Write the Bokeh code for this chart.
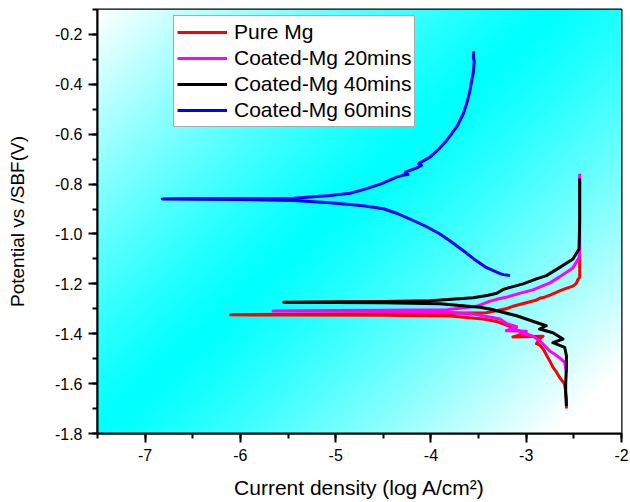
import numpy as np
from bokeh.plotting import figure
from bokeh.models import FixedTicker, PrintfTickFormatter, Legend, LegendItem, Range1d
from bokeh.embed import file_html
from bokeh.resources import INLINE

# ---------------- data ----------------
x_ticks = [-7, -6, -5, -4, -3, -2]
y_ticks = [-1.8, -1.6, -1.4, -1.2, -1.0, -0.8, -0.6, -0.4, -0.2]

series_names = ["Pure Mg", "Coated-Mg 20mins", "Coated-Mg 40mins", "Coated-Mg 60mins"]

pure_x = [-2.578, -2.578, -2.590, -2.600, -2.648, -2.680, -2.719, -2.753, -2.788, -2.820, -2.860,
          -2.893, -2.870, -2.824, -3.140, -3.000, -3.100, -3.140, -3.300, -3.450, -3.800, -4.500,
          -5.500, -6.104, -5.500, -4.500, -3.800, -3.420, -3.210, -3.140, -3.000, -2.900, -2.860,
          -2.820, -2.750, -2.650, -2.580, -2.510, -2.474, -2.457, -2.439, -2.439]
pure_y = [-1.700, -1.660, -1.620, -1.600, -1.576, -1.555, -1.535, -1.509, -1.485, -1.462, -1.445,
          -1.440, -1.425, -1.410, -1.413, -1.398, -1.385, -1.375, -1.352, -1.341, -1.329, -1.326,
          -1.325, -1.324, -1.322, -1.320, -1.318, -1.316, -1.300, -1.290, -1.276, -1.266, -1.258,
          -1.255, -1.245, -1.228, -1.218, -1.209, -1.198, -1.182, -1.174, -1.080]

c20_x = [-2.578, -2.590, -2.596, -2.648, -2.700, -2.753, -2.800, -2.858, -2.930, -2.997, -3.070,
         -3.000, -3.210, -3.100, -3.200, -3.277, -3.557, -3.905, -4.500, -5.000, -5.657, -5.000,
         -4.500, -3.832, -3.520, -3.400, -3.310, -3.210, -3.070, -2.930, -2.750, -2.650, -2.510,
         -2.446, -2.439, -2.439]
c20_y = [-1.555, -1.530, -1.515, -1.497, -1.482, -1.469, -1.450, -1.428, -1.410, -1.401, -1.395,
         -1.390, -1.388, -1.372, -1.360, -1.341, -1.321, -1.312, -1.310, -1.309, -1.309, -1.307,
         -1.306, -1.304, -1.290, -1.272, -1.262, -1.254, -1.238, -1.224, -1.196, -1.172, -1.136,
         -1.095, -1.067, -0.759]

c40_x = [-2.578, -2.586, -2.586, -2.578, -2.578, -2.596, -2.720, -2.614, -2.720, -2.860, -2.790,
         -2.893, -3.100, -3.380, -3.490, -3.905, -4.500, -5.000, -5.546, -5.000, -4.500, -4.010,
         -3.557, -3.400, -3.310, -3.240, -3.207, -3.033, -2.893, -2.788, -2.648, -2.509, -2.446,
         -2.439, -2.439]
c40_y = [-1.690, -1.640, -1.602, -1.535, -1.488, -1.455, -1.436, -1.421, -1.396, -1.381, -1.368,
         -1.355, -1.328, -1.301, -1.294, -1.280, -1.276, -1.275, -1.274, -1.272, -1.271, -1.268,
         -1.256, -1.246, -1.238, -1.222, -1.218, -1.200, -1.180, -1.167, -1.134, -1.100, -1.060,
         -0.950, -0.778]

c60_x = [-3.170, -3.240, -3.280, -3.420, -3.550, -3.660, -3.780, -3.905, -4.050, -4.185, -4.350,
         -4.500, -4.710, -4.850, -5.060, -5.440, -6.000, -6.500, -6.820, -6.500, -6.000, -5.440,
         -5.060, -4.850, -4.710, -4.530, -4.360, -4.300, -4.240, -4.270, -4.150, -4.100, -4.130,
         -4.010, -3.920, -3.835, -3.730, -3.660, -3.620, -3.590, -3.570, -3.557, -3.545, -3.555,
         -3.550]
c60_y = [-1.167, -1.163, -1.158, -1.134, -1.100, -1.067, -1.033, -1.000, -0.970, -0.946, -0.918,
         -0.899, -0.887, -0.882, -0.875, -0.866, -0.862, -0.861, -0.860, -0.858, -0.858, -0.857,
         -0.846, -0.837, -0.822, -0.800, -0.772, -0.765, -0.762, -0.752, -0.735, -0.725, -0.718,
         -0.692, -0.660, -0.625, -0.571, -0.518, -0.470, -0.424, -0.380, -0.357, -0.310, -0.290,
         -0.268]

series_x = [pure_x, c20_x, c40_x, c60_x]
series_y = [pure_y, c20_y, c40_y, c60_y]
series_colors = ["#FF0000", "#FF00FF", "#000000", "#0000FF"]

X0, X1 = -7.5, -2.0
Y0, Y1 = -1.8, -0.1

FONT = "Liberation Sans"

p = figure(width=630, height=502, output_backend="svg", toolbar_location=None,
           x_range=Range1d(X0, X1), y_range=Range1d(Y0, Y1),
           min_border_left=97, min_border_right=9, min_border_top=9, min_border_bottom=69,
           background_fill_color="white", border_fill_color="white")

# gradient background (cyan band along the bottom-left -> top-right diagonal)
GW, GH = 262, 212
u = np.linspace(0, 1, GW)[None, :]
v = np.linspace(0, 1, GH)[:, None]
d = np.clip(np.abs(1.15 * u - v), 0, 1) ** 1.2
img = np.empty((GH, GW), dtype=np.uint32)
view = img.view(dtype=np.uint8).reshape((GH, GW, 4))
view[..., 0] = (255 * d).astype(np.uint8)
view[..., 1] = 255
view[..., 2] = 255
view[..., 3] = 255
p.image_rgba(image=[img], x=X0, y=Y0, dw=X1 - X0, dh=Y1 - Y0, level="image")

renderers = []
for xs, ys, col in zip(series_x, series_y, series_colors):
    r = p.line(xs, ys, line_color=col, line_width=3, line_join="round")
    renderers.append(r)

legend = Legend(items=[LegendItem(label=n, renderers=[r]) for n, r in zip(series_names, renderers)],
                location=(76, 306), label_text_font=FONT, label_text_font_size="21px",
                label_text_color="black",
                glyph_width=50, glyph_height=26, label_height=26, spacing=0, padding=3,
                label_standoff=7, border_line_color="#555555", border_line_width=1,
                background_fill_alpha=1.0, margin=0)
p.add_layout(legend, "center")

p.grid.visible = False
p.outline_line_color = "black"
p.outline_line_width = 2
p.outline_line_alpha = 1

p.xaxis.ticker = FixedTicker(ticks=x_ticks, minor_ticks=list(np.arange(-7.5, -1.9, 0.5)))
p.yaxis.ticker = FixedTicker(ticks=y_ticks, minor_ticks=[round(-1.8 + 0.1 * i, 1) for i in range(18)])
p.xaxis.formatter = PrintfTickFormatter(format="%d")
p.yaxis.formatter = PrintfTickFormatter(format="%.1f")

for ax in (p.xaxis[0], p.yaxis[0]):
    ax.axis_line_width = 2
    ax.axis_line_color = "black"
    ax.major_tick_line_width = 2
    ax.minor_tick_line_width = 2
    ax.major_tick_line_color = "black"
    ax.minor_tick_line_color = "black"
    ax.major_tick_in = 0
    ax.major_tick_out = 9
    ax.minor_tick_in = 0
    ax.minor_tick_out = 5
    ax.major_label_text_font = FONT
    ax.major_label_text_font_size = "16px"
    ax.major_label_text_color = "black"
    ax.axis_label_text_font = FONT
    ax.axis_label_text_color = "black"
    ax.axis_label_text_font_style = "normal"
    ax.major_label_standoff = 6

p.xaxis.axis_label = "Current density (log A/cm²)"
p.yaxis.axis_label = "Potential vs /SBF(V)"
p.xaxis.axis_label_text_font_size = "21px"
p.yaxis.axis_label_text_font_size = "19px"
p.xaxis.axis_label_standoff = 12
p.yaxis.axis_label_standoff = 24

open("out.html", "w").write(file_html(p, INLINE))
